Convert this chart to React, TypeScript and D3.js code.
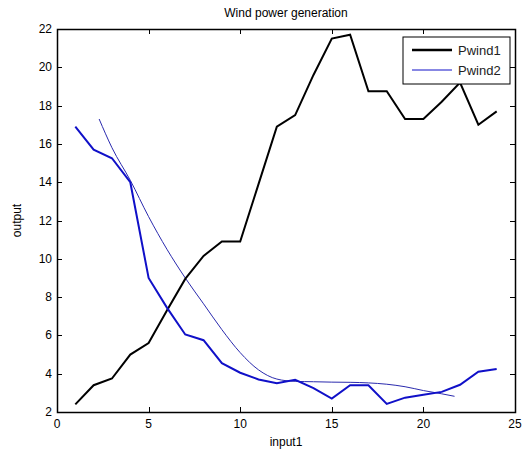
import React, { useRef, useEffect } from 'react';
import * as d3 from 'd3';

const WIDTH = 528;
const HEIGHT = 452;
const M = { left: 57, right: 13, top: 29, bottom: 40 };

// hours 1..24
const hours = d3.range(1, 25);
const pwind1 = [2.4, 3.4, 3.75, 5.0, 5.6, 7.3, 8.95, 10.15, 10.9, 10.9, 13.9, 16.9, 17.5, 19.6, 21.5, 21.7, 18.75, 18.75, 17.3, 17.3, 18.2, 19.2, 17.0, 17.7];
const pwind2 = [16.9, 15.7, 15.25, 14.0, 9.0, 7.45, 6.05, 5.75, 4.55, 4.05, 3.7, 3.5, 3.68, 3.25, 2.7, 3.4, 3.4, 2.42, 2.75, 2.9, 3.05, 3.42, 4.1, 4.25];

// thin fitted curve
const fitX = [2.3, 3, 4, 5, 6, 7, 8, 9, 10, 11, 12, 13, 14, 15, 16, 17, 18, 19, 20, 21, 21.7];
const fitY = [17.3, 15.8, 14.1, 12.2, 10.5, 9.0, 7.65, 6.3, 5.1, 4.2, 3.72, 3.6, 3.58, 3.56, 3.55, 3.52, 3.45, 3.32, 3.12, 2.95, 2.82];

const xTicks = [0, 5, 10, 15, 20, 25];
const yTicks = [2, 4, 6, 8, 10, 12, 14, 16, 18, 20, 22];

const FONT = 'Liberation Sans, Arial, sans-serif';

const App: React.FC = () => {
  const svgRef = useRef<SVGSVGElement>(null);

  useEffect(() => {
    if (!svgRef.current) return;
    const svg = d3.select(svgRef.current);
    svg.selectAll('*').remove();

    const x = d3.scaleLinear().domain([0, 25]).range([M.left, WIDTH - M.right]);
    const y = d3.scaleLinear().domain([2, 22]).range([HEIGHT - M.bottom, M.top]);
    const [x0, x1] = x.range();
    const [y0, y1] = y.range();

    svg.append('rect').attr('width', WIDTH).attr('height', HEIGHT).attr('fill', '#fff');

    const tickLen = 5;
    const ticks = svg.append('g').attr('stroke', '#000').attr('stroke-width', 1);
    xTicks.forEach((v) => {
      const px = Math.round(x(v)) + 0.5;
      ticks.append('line').attr('x1', px).attr('x2', px).attr('y1', y0).attr('y2', y0 - tickLen);
      ticks.append('line').attr('x1', px).attr('x2', px).attr('y1', y1).attr('y2', y1 + tickLen);
    });
    yTicks.forEach((v) => {
      const py = Math.round(y(v)) + 0.5;
      ticks.append('line').attr('x1', x0).attr('x2', x0 + tickLen).attr('y1', py).attr('y2', py);
      ticks.append('line').attr('x1', x1).attr('x2', x1 - tickLen).attr('y1', py).attr('y2', py);
    });

    svg.append('g')
      .selectAll('text')
      .data(xTicks)
      .join('text')
      .attr('x', (d) => x(d))
      .attr('y', y0 + 16)
      .attr('text-anchor', 'middle')
      .attr('font-family', FONT)
      .attr('font-size', 12)
      .text((d) => String(d));

    svg.append('g')
      .selectAll('text')
      .data(yTicks)
      .join('text')
      .attr('x', x0 - 5)
      .attr('y', (d) => y(d) + 4)
      .attr('text-anchor', 'end')
      .attr('font-family', FONT)
      .attr('font-size', 12)
      .text((d) => String(d));

    const line = d3.line<number>().x((_, i) => x(hours[i]));

    svg.append('path')
      .datum(fitY)
      .attr('d', d3.line<number>().x((_, i) => x(fitX[i])).y((d) => y(d)).curve(d3.curveMonotoneX)(fitY) ?? '')
      .attr('fill', 'none')
      .attr('stroke', '#2a2aae')
      .attr('stroke-width', 1);

    svg.append('path')
      .attr('d', line.y((d) => y(d))(pwind1) ?? '')
      .attr('fill', 'none')
      .attr('stroke', '#000')
      .attr('stroke-width', 2);

    svg.append('path')
      .attr('d', line.y((d) => y(d))(pwind2) ?? '')
      .attr('fill', 'none')
      .attr('stroke', '#1010c8')
      .attr('stroke-width', 2);

    svg.append('rect')
      .attr('x', x0 + 0.5)
      .attr('y', y1 + 0.5)
      .attr('width', x1 - x0)
      .attr('height', y0 - y1)
      .attr('fill', 'none')
      .attr('stroke', '#000')
      .attr('stroke-width', 1.5);

    // legend
    const lg = svg.append('g').attr('transform', 'translate(403,37)');
    lg.append('rect').attr('width', 107).attr('height', 47).attr('fill', '#fff').attr('stroke', '#000').attr('stroke-width', 1);
    const items = [
      { name: 'Pwind1', color: '#000', w: 2.5 },
      { name: 'Pwind2', color: '#1010c8', w: 1 },
    ];
    items.forEach((it, i) => {
      const ly = 13 + i * 20;
      lg.append('line').attr('x1', 9).attr('x2', 49).attr('y1', ly).attr('y2', ly).attr('stroke', it.color).attr('stroke-width', it.w);
      lg.append('text').attr('x', 55).attr('y', ly + 5).attr('font-family', FONT).attr('font-size', 13).attr('fill', '#222').text(it.name);
    });

    svg.append('text')
      .attr('x', (x0 + x1) / 2)
      .attr('y', 17)
      .attr('text-anchor', 'middle')
      .attr('font-family', FONT)
      .attr('font-size', 12)
      .text('Wind power generation');

    svg.append('text')
      .attr('x', (x0 + x1) / 2)
      .attr('y', 446)
      .attr('text-anchor', 'middle')
      .attr('font-family', FONT)
      .attr('font-size', 12)
      .text('input1');

    svg.append('text')
      .attr('transform', `translate(21,${(y0 + y1) / 2}) rotate(-90)`)
      .attr('text-anchor', 'middle')
      .attr('font-family', FONT)
      .attr('font-size', 12)
      .text('output');
  }, []);

  return (
    <svg
      ref={svgRef}
      width={WIDTH}
      height={HEIGHT}
      viewBox={`0 0 ${WIDTH} ${HEIGHT}`}
      style={{ position: 'absolute', left: 0, top: 0, display: 'block' }}
    />
  );
};

export default App;
